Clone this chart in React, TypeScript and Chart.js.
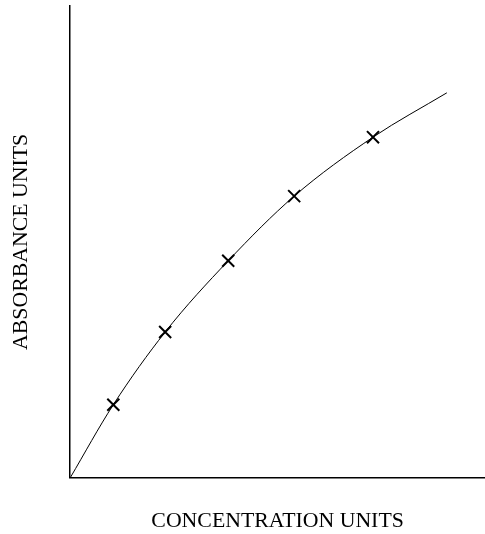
import React, { useEffect, useRef } from "react";
import { Chart, registerables } from "chart.js";

Chart.register(...registerables);

// Measured standards (concentration, absorbance) in arbitrary units
const concentration = [1.04, 2.29, 3.81, 5.40, 7.30];
const absorbance = [1.55, 3.09, 4.60, 5.97, 7.22];

// Calibration curve
const curveX = [0, 1.04, 2.29, 3.81, 5.40, 7.30, 9.08];
const curveY = [0, 1.55, 3.09, 4.60, 5.97, 7.22, 8.16];

const xMax = 10;
const yMax = 10;
const xTitle = "CONCENTRATION UNITS";
const yTitle = "ABSORBANCE UNITS";

export default function App() {
  const ref = useRef<HTMLCanvasElement | null>(null);

  useEffect(() => {
    if (!ref.current) return;
    const font = { family: "'Liberation Serif', 'Times New Roman', serif", size: 21.8 };
    const chart = new Chart(ref.current, {
      type: "scatter",
      data: {
        datasets: [
          {
            type: "line",
            label: "curve",
            data: curveX.map((x, i) => ({ x, y: curveY[i] })),
            borderColor: "#000",
            borderWidth: 1,
            pointRadius: 0,
            fill: false,
            cubicInterpolationMode: "monotone",
          },
          {
            label: "standards",
            data: concentration.map((x, i) => ({ x, y: absorbance[i] })),
            pointStyle: "crossRot",
            pointRadius: 8.5,
            pointBorderWidth: 2,
            borderColor: "#000",
            backgroundColor: "#000",
          },
        ],
      },
      options: {
        responsive: false,
        animation: false,
        layout: { autoPadding: false, padding: { top: 6, right: 0, left: 0, bottom: 0 } },
        plugins: { legend: { display: false }, tooltip: { enabled: false } },
        scales: {
          x: {
            type: "linear",
            min: 0,
            max: xMax,
            grid: { display: false, drawTicks: false },
            ticks: { display: false },
            border: { display: true, color: "#000", width: 1.5 },
            title: {
              display: true,
              text: xTitle,
              color: "#000",
              font,
              padding: { top: 30, bottom: 0 },
            },
          },
          y: {
            type: "linear",
            min: 0,
            max: yMax,
            grid: { display: false, drawTicks: false },
            ticks: { display: false },
            border: { display: true, color: "#000", width: 1.5 },
            title: {
              display: true,
              text: yTitle,
              color: "#000",
              font,
              padding: { top: 8, bottom: 36 },
            },
          },
        },
      },
    });
    return () => chart.destroy();
  }, []);

  return (
    <div style={{ position: "fixed", left: 0, top: 0, width: 485, height: 534, background: "#fff" }}>
      <canvas ref={ref} width={485} height={534} />
    </div>
  );
}
